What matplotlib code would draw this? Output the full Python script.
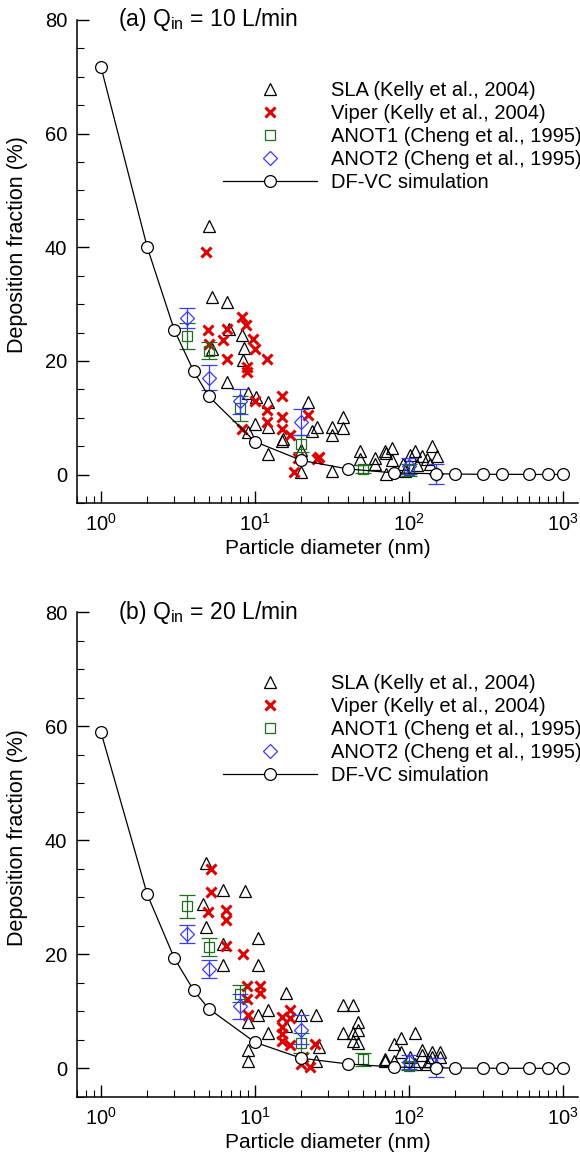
# deposition fraction vs particle diameter, two flow rates

import numpy as np
import matplotlib
matplotlib.use("Agg")
import matplotlib.pyplot as plt
from matplotlib.ticker import MultipleLocator, LogLocator

plt.rcParams["font.family"] = ["Liberation Sans", "DejaVu Sans"]
plt.rcParams["mathtext.fontset"] = "custom"
plt.rcParams["mathtext.rm"] = "Liberation Sans"
plt.rcParams["mathtext.it"] = "Liberation Sans:italic"
plt.rcParams["mathtext.bf"] = "Liberation Sans:bold"

# ---- panel (a) Q = 10 L/min ----

sim_d_a = [1, 2, 3, 4, 5, 10, 20, 40, 80, 150, 200, 300, 400, 600, 800, 1000]
sim_v_a = [71.8, 40.0, 25.4, 18.2, 13.8, 5.8, 2.5, 1.0, 0.3, 0.15, 0.1, 0.05, 0.05, 0.03, 0.02, 0.02]

sla_d_a = [5.02, 5.23, 6.55, 6.8, 8.3, 5.23, 8.5, 8.4, 6.55, 9.05, 10.1, 12.1, 10.0, 12.1,
           15.3, 9.05, 12.1, 15.0, 22.0, 25.2, 23.3, 31.8, 37.0, 37.0, 31.8, 20.0, 20.0,
           31.8, 48.0, 48.0, 60.0, 60.0, 70.0, 71.0, 78.0, 78.0, 71.0, 91.5, 94.0, 101.0,
           109.0, 112.0, 121.0, 130.0, 137.0, 140.0, 151.0]
sla_v_a = [43.7, 31.2, 30.3, 25.6, 24.5, 22.1, 22.3, 20.2, 16.3, 14.3, 13.6, 12.7, 8.9, 8.3,
           6.3, 7.5, 3.6, 5.9, 12.8, 8.3, 7.7, 8.3, 10.2, 8.2, 6.9, 4.3, 0.4,
           0.6, 4.1, 2.7, 3.0, 1.8, 4.2, 3.8, 4.6, 2.5, 0.1, 1.9, 0.7, 3.5,
           4.2, 1.6, 3.3, 2.8, 1.9, 5.1, 3.2]

viper_d_a = [4.78, 8.3, 8.7, 6.55, 4.98, 9.65, 6.2, 5.0, 10.0, 6.55, 11.9, 8.85, 8.9, 14.9,
             10.0, 11.9, 14.9, 11.9, 14.9, 16.9, 8.3, 22.0, 25.2, 26.0, 17.9, 18.9]
viper_v_a = [39.2, 27.7, 26.3, 25.7, 25.5, 23.9, 23.6, 23.0, 22.1, 20.4, 20.4, 18.9, 18.0, 13.9,
             13.0, 11.3, 10.1, 9.2, 8.0, 6.9, 8.0, 10.4, 2.8, 3.1, 0.4, 2.9]

anot1_d_a = [3.6, 5.0, 8.0, 20.0, 50.0, 100.0]
anot1_v_a = [24.4, 21.8, 11.7, 5.4, 0.9, 0.8]
anot1_e_a = [2.3, 1.5, 2.2, 1.5, 0.7, 1.1]

anot2_d_a = [3.6, 5.0, 8.0, 20.0, 100.0, 150.0]
anot2_v_a = [27.6, 17.0, 12.9, 9.2, 1.5, 0.1]
anot2_e_a = [1.8, 2.2, 2.2, 2.3, 1.4, 1.7]

# ---- panel (b) Q = 20 L/min ----

sim_d_b = [1, 2, 3, 4, 5, 10, 20, 40, 80, 150, 200, 300, 400, 600, 800, 1000]
sim_v_b = [59.0, 30.5, 19.3, 13.7, 10.5, 4.6, 1.8, 0.8, 0.25, 0.12, 0.08, 0.05, 0.04, 0.03, 0.02, 0.02]

sla_d_b = [4.78, 6.22, 8.6, 4.57, 4.78, 10.5, 6.16, 6.16, 10.5, 15.9, 12.1, 10.5, 9.05, 12.1,
           16.0, 20.0, 25.0, 26.0, 9.05, 9.05, 37.0, 43.0, 46.8, 46.8, 43.5, 37.0, 46.8,
           43.5, 25.0, 70.0, 70.0, 80.0, 80.0, 89.0, 109.0, 89.0, 101.0, 109.0, 121.0, 140.0,
           159.0, 159.0, 121.0, 140.0, 137.0, 130.0]
sla_v_b = [36.0, 31.2, 31.1, 28.8, 24.8, 22.8, 21.8, 18.2, 18.2, 13.2, 10.3, 9.3, 8.1, 6.3,
           7.5, 9.3, 9.3, 3.8, 3.2, 1.4, 11.2, 11.2, 8.2, 6.7, 6.2, 6.2, 4.5,
           4.8, 1.3, 1.7, 1.3, 1.3, 4.3, 5.4, 6.2, 2.9, 2.0, 0.8, 3.2, 2.9,
           2.9, 2.0, 2.3, 2.0, 1.4, 0.7]

viper_d_b = [5.18, 5.18, 4.98, 6.44, 6.44, 6.47, 8.4, 8.85, 10.8, 10.8, 8.85, 8.95, 14.9, 16.9,
             16.9, 14.9, 14.9, 16.9, 14.9, 24.5, 20.0, 22.7, 20.5]
viper_v_b = [35.0, 30.9, 27.4, 27.7, 26.0, 21.5, 20.1, 14.4, 14.4, 13.2, 12.2, 9.3, 9.0, 10.2,
             8.8, 7.2, 6.1, 4.2, 4.9, 4.3, 0.8, 0.2, 2.0]

anot1_d_b = [3.6, 5.02, 8.0, 20.0, 50.0, 100.0]
anot1_v_b = [28.4, 21.3, 13.1, 4.5, 1.6, 0.5]
anot1_e_b = [2.0, 1.5, 1.5, 1.7, 1.2, 0.7]

anot2_d_b = [3.6, 5.02, 8.0, 20.0, 100.0, 150.0]
anot2_v_b = [23.6, 17.4, 10.9, 6.8, 1.1, 0.2]
anot2_e_b = [1.6, 1.6, 2.2, 2.5, 1.2, 1.7]

green = '#1e6e1e'
blue = '#3a3aff'
red = '#dd0000'


def draw_panel(ax, title, sim_d, sim_v, sla_d, sla_v, vip_d, vip_v,
               a1_d, a1_v, a1_e, a2_d, a2_v, a2_e):

    ax.plot(sla_d, sla_v, ls='none', marker='^', ms=8.5, mfc='none', mec='black',
            mew=0.9, label='SLA (Kelly et al., 2004)', zorder=3)
    ax.plot(vip_d, vip_v, ls='none', marker='x', ms=7.5, mec=red, mew=2.2,
            label='Viper (Kelly et al., 2004)', zorder=3)

    # error bars drawn separately so the legend shows only the marker
    ax.errorbar(a1_d, a1_v, yerr=a1_e, fmt='none', ecolor=green, elinewidth=0.9,
                capsize=6, capthick=0.9, zorder=4)
    ax.plot(a1_d, a1_v, ls='none', marker='s', ms=6.5, mfc='none', mec=green,
            mew=0.9, label='ANOT1 (Cheng et al., 1995)', zorder=4)
    ax.errorbar(a2_d, a2_v, yerr=a2_e, fmt='none', ecolor=blue, elinewidth=0.9,
                capsize=6, capthick=0.9, zorder=4)
    ax.plot(a2_d, a2_v, ls='none', marker='D', ms=6.8, mfc='none', mec=blue,
            mew=0.9, label='ANOT2 (Cheng et al., 1995)', zorder=4)

    ax.plot(sim_d, sim_v, color='black', lw=0.9, marker='o', ms=8.5, mfc='white',
            mec='black', mew=0.9, label='DF-VC simulation', zorder=5)

    ax.set_xscale('log')
    ax.set_xlim(0.70, 1250)
    ax.set_ylim(-5, 80)

    ax.yaxis.set_major_locator(MultipleLocator(20))
    ax.yaxis.set_minor_locator(MultipleLocator(5))
    ax.xaxis.set_major_locator(LogLocator(base=10, numticks=10))
    ax.xaxis.set_minor_locator(LogLocator(base=10, subs=np.arange(2, 10), numticks=20))

    ax.spines['top'].set_visible(False)
    ax.spines['right'].set_visible(False)
    ax.spines['left'].set_linewidth(1.1)
    ax.spines['bottom'].set_linewidth(1.1)

    ax.tick_params(axis='both', which='major', direction='in', length=8.5, width=1.0,
                   labelsize=14.5, pad=7)
    ax.tick_params(axis='both', which='minor', direction='in', length=5, width=0.8)

    ax.set_xlabel('Particle diameter (nm)', fontsize=15, labelpad=3)
    ax.set_ylabel('Deposition fraction (%)', fontsize=15.5)
    ax.yaxis.set_label_coords(-0.098, 0.535)

    ax.text(0.082, 1.0, title, transform=ax.transAxes, fontsize=16.5,
            ha='left', va='center')

    ax.legend(loc='upper left', bbox_to_anchor=(0.291, 0.873), frameon=False,
              fontsize=14.5, handlelength=4.7, handletextpad=0.65, labelspacing=0.2,
              borderaxespad=0, borderpad=0, numpoints=1)


fig = plt.figure(figsize=(5.8, 11.55), dpi=100)

ax1 = fig.add_axes([0.1328, 0.5645, 0.8638, 0.4182])
draw_panel(ax1, r'(a) Q$_{\rm in}$ = 10 L/min', sim_d_a, sim_v_a, sla_d_a, sla_v_a,
           viper_d_a, viper_v_a, anot1_d_a, anot1_v_a, anot1_e_a,
           anot2_d_a, anot2_v_a, anot2_e_a)

ax2 = fig.add_axes([0.1328, 0.0502, 0.8638, 0.4199])
draw_panel(ax2, r'(b) Q$_{\rm in}$ = 20 L/min', sim_d_b, sim_v_b, sla_d_b, sla_v_b,
           viper_d_b, viper_v_b, anot1_d_b, anot1_v_b, anot1_e_b,
           anot2_d_b, anot2_v_b, anot2_e_b)

plt.savefig("out.png", dpi=100)
